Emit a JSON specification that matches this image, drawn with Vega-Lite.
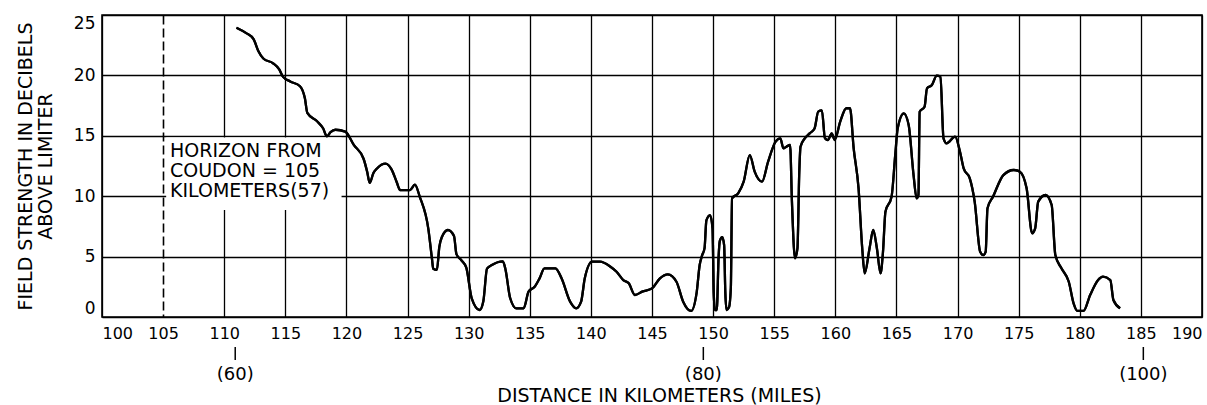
{
  "$schema": "https://vega.github.io/schema/vega-lite/v6.json",
  "autosize": {"type": "none"},
  "padding": {"left": 102, "top": 15, "right": 5, "bottom": 88},
  "width": 1100,
  "height": 302,
  "background": "white",
  "config": {
    "view": {"stroke": "black", "strokeWidth": 1.6},
    "font": "DejaVu Sans",
    "text": {"color": "black"}
  },
  "datasets": {
    "curve": [
      {"km": 111.0, "db": 23.95}, {"km": 111.8, "db": 23.5}, {"km": 112.4, "db": 23.0}, {"km": 112.8, "db": 22.0},
      {"km": 113.2, "db": 21.4}, {"km": 114.0, "db": 21.0}, {"km": 114.5, "db": 20.5}, {"km": 114.8, "db": 19.9},
      {"km": 115.4, "db": 19.5}, {"km": 116.2, "db": 19.1}, {"km": 116.6, "db": 18.1}, {"km": 116.8, "db": 16.9},
      {"km": 117.6, "db": 16.2}, {"km": 118.1, "db": 15.6}, {"km": 118.4, "db": 14.95}, {"km": 118.7, "db": 15.3},
      {"km": 119.1, "db": 15.5}, {"km": 119.9, "db": 15.35}, {"km": 120.6, "db": 14.25}, {"km": 121.4, "db": 13.1},
      {"km": 121.7, "db": 12.0}, {"km": 121.9, "db": 11.1}, {"km": 122.2, "db": 11.9}, {"km": 122.5, "db": 12.3},
      {"km": 123.2, "db": 12.7}, {"km": 123.7, "db": 12.2}, {"km": 124.1, "db": 11.2}, {"km": 124.4, "db": 10.5},
      {"km": 125.2, "db": 10.5}, {"km": 125.6, "db": 10.95}, {"km": 126.0, "db": 9.95}, {"km": 126.7, "db": 7.3},
      {"km": 127.0, "db": 4.8}, {"km": 127.1, "db": 4.0}, {"km": 127.4, "db": 3.9}, {"km": 127.6, "db": 5.8},
      {"km": 127.8, "db": 6.6}, {"km": 128.3, "db": 7.2}, {"km": 128.8, "db": 6.7}, {"km": 129.0, "db": 5.2},
      {"km": 129.4, "db": 4.7}, {"km": 129.8, "db": 4.1}, {"km": 130.25, "db": 1.55}, {"km": 130.9, "db": 0.58},
      {"km": 131.2, "db": 1.3}, {"km": 131.5, "db": 4.0}, {"km": 131.9, "db": 4.3}, {"km": 132.8, "db": 4.6},
      {"km": 133.0, "db": 4.0}, {"km": 133.4, "db": 1.55}, {"km": 133.9, "db": 0.72}, {"km": 134.5, "db": 0.72},
      {"km": 134.9, "db": 2.1}, {"km": 135.4, "db": 2.5}, {"km": 135.8, "db": 3.2}, {"km": 136.2, "db": 4.03},
      {"km": 137.1, "db": 4.03}, {"km": 137.6, "db": 3.2}, {"km": 138.3, "db": 1.27}, {"km": 138.8, "db": 0.72},
      {"km": 139.2, "db": 1.27}, {"km": 139.5, "db": 3.2}, {"km": 140.1, "db": 4.58}, {"km": 140.75, "db": 4.58},
      {"km": 141.6, "db": 4.16}, {"km": 142.1, "db": 3.75}, {"km": 142.65, "db": 3.06}, {"km": 143.1, "db": 2.79},
      {"km": 143.6, "db": 1.82}, {"km": 144.2, "db": 2.1}, {"km": 145.0, "db": 2.37}, {"km": 145.65, "db": 3.2},
      {"km": 146.3, "db": 3.53}, {"km": 147.0, "db": 2.92}, {"km": 147.55, "db": 1.27}, {"km": 148.2, "db": 0.5},
      {"km": 148.65, "db": 2.0}, {"km": 148.9, "db": 4.3}, {"km": 149.1, "db": 5.1}, {"km": 149.3, "db": 5.7},
      {"km": 149.45, "db": 8.0}, {"km": 149.75, "db": 8.44}, {"km": 149.95, "db": 7.34}, {"km": 150.05, "db": 2.0},
      {"km": 150.15, "db": 0.58}, {"km": 150.3, "db": 0.58}, {"km": 150.45, "db": 5.0}, {"km": 150.55, "db": 6.3},
      {"km": 150.75, "db": 6.6}, {"km": 150.9, "db": 5.96}, {"km": 151.0, "db": 2.0}, {"km": 151.1, "db": 0.58},
      {"km": 151.3, "db": 0.8}, {"km": 151.45, "db": 2.4}, {"km": 151.55, "db": 9.82}, {"km": 152.05, "db": 10.24},
      {"km": 152.5, "db": 11.2}, {"km": 153.0, "db": 13.4}, {"km": 153.4, "db": 12.03}, {"km": 154.0, "db": 11.2},
      {"km": 154.5, "db": 12.86}, {"km": 155.1, "db": 14.5}, {"km": 155.5, "db": 14.79}, {"km": 155.75, "db": 13.96},
      {"km": 156.0, "db": 14.1}, {"km": 156.3, "db": 14.24}, {"km": 156.45, "db": 9.55}, {"km": 156.7, "db": 4.86},
      {"km": 156.9, "db": 5.69}, {"km": 157.05, "db": 12.0}, {"km": 157.15, "db": 14.1}, {"km": 157.5, "db": 14.79},
      {"km": 157.9, "db": 15.2}, {"km": 158.3, "db": 15.6}, {"km": 158.6, "db": 17.0}, {"km": 158.9, "db": 17.1},
      {"km": 159.15, "db": 14.8}, {"km": 159.4, "db": 14.65}, {"km": 159.7, "db": 15.2}, {"km": 159.95, "db": 14.65},
      {"km": 160.4, "db": 16.17}, {"km": 160.9, "db": 17.28}, {"km": 161.2, "db": 17.28}, {"km": 161.5, "db": 13.96},
      {"km": 161.9, "db": 10.65}, {"km": 162.2, "db": 5.69}, {"km": 162.4, "db": 3.62}, {"km": 162.8, "db": 5.69},
      {"km": 163.1, "db": 7.2}, {"km": 163.4, "db": 5.69}, {"km": 163.7, "db": 3.62}, {"km": 163.9, "db": 5.4},
      {"km": 164.1, "db": 8.72}, {"km": 164.6, "db": 9.96}, {"km": 164.9, "db": 13.4}, {"km": 165.1, "db": 15.6},
      {"km": 165.6, "db": 16.86}, {"km": 166.0, "db": 15.9}, {"km": 166.4, "db": 11.75}, {"km": 166.65, "db": 9.82},
      {"km": 166.8, "db": 10.1}, {"km": 166.9, "db": 17.0}, {"km": 167.3, "db": 17.41}, {"km": 167.5, "db": 18.93},
      {"km": 167.9, "db": 19.2}, {"km": 168.3, "db": 19.98}, {"km": 168.6, "db": 19.9}, {"km": 168.85, "db": 14.79},
      {"km": 169.1, "db": 14.38}, {"km": 169.8, "db": 14.93}, {"km": 170.2, "db": 13.68}, {"km": 170.5, "db": 12.3},
      {"km": 171.0, "db": 11.48}, {"km": 171.4, "db": 9.55}, {"km": 171.85, "db": 5.4}, {"km": 172.1, "db": 5.13},
      {"km": 172.3, "db": 5.4}, {"km": 172.45, "db": 9.0}, {"km": 172.9, "db": 9.96}, {"km": 173.75, "db": 11.75},
      {"km": 174.6, "db": 12.17}, {"km": 175.1, "db": 12.03}, {"km": 175.65, "db": 10.65}, {"km": 176.1, "db": 6.93},
      {"km": 176.35, "db": 7.34}, {"km": 176.6, "db": 9.55}, {"km": 177.2, "db": 10.1}, {"km": 177.7, "db": 9.27},
      {"km": 178.0, "db": 5.13}, {"km": 178.5, "db": 4.03}, {"km": 179.1, "db": 2.92}, {"km": 179.5, "db": 1.1},
      {"km": 179.8, "db": 0.5}, {"km": 180.3, "db": 0.5}, {"km": 180.85, "db": 1.82}, {"km": 181.5, "db": 3.06},
      {"km": 181.9, "db": 3.34}, {"km": 182.5, "db": 3.06}, {"km": 182.75, "db": 1.41}, {"km": 183.3, "db": 0.72}
    ],
    "miles": [
      {"km": 110.9, "label": "(60)"},
      {"km": 149.2, "label": "(80)"},
      {"km": 185.2, "label": "(100)"}
    ]
  },
  "layer": [
    {
      "data": {"name": "curve"},
      "mark": {"type": "line", "color": "black", "strokeWidth": 2.3, "interpolate": "monotone"},
      "encoding": {
        "x": {
          "field": "km", "type": "quantitative",
          "scale": {"domain": [100, 190], "nice": false, "zero": false},
          "axis": {
            "title": "DISTANCE IN KILOMETERS (MILES)",
            "values": [100, 105, 110, 115, 120, 125, 130, 135, 140, 145, 150, 155, 160, 165, 170, 175, 180, 185, 190],
            "grid": true, "gridColor": "black", "gridOpacity": 1,
            "gridWidth": {"condition": {"test": "datum.value === 105", "value": 1.6}, "value": 1.3},
            "gridDash": {"condition": {"test": "datum.value === 105", "value": [9, 4]}, "value": []},
            "domain": false, "ticks": false, "tickSize": 0,
            "labelPadding": 8, "labelFontSize": 16, "labelColor": "black", "labelFlush": true,
            "titleFontSize": 19, "titleFontWeight": "normal", "titleColor": "black",
            "titleBaseline": "middle", "titleX": 557, "titleY": 78
          }
        },
        "y": {
          "field": "db", "type": "quantitative",
          "scale": {"domain": [0, 25], "nice": false},
          "axis": {
            "title": ["FIELD STRENGTH IN DECIBELS", "ABOVE LIMITER"],
            "values": [0, 5, 10, 15, 20, 25],
            "grid": true, "gridColor": "black", "gridOpacity": 1, "gridWidth": 1.3,
            "domain": false, "ticks": false, "tickSize": 0,
            "labelPadding": 7, "labelFontSize": 17, "labelColor": "black", "labelFlush": true,
            "titleFontSize": 19, "titleFontWeight": "normal", "titleColor": "black",
            "titleLineHeight": 20, "titleBaseline": "middle", "titleAngle": 270,
            "titleX": -77, "titleY": 151
          }
        }
      }
    },
    {
      "data": {"values": [{}]},
      "mark": {"type": "rect", "fill": "white"},
      "encoding": {
        "x": {"datum": 105.25, "type": "quantitative"},
        "x2": {"datum": 119.6},
        "y": {"datum": 8.85, "type": "quantitative"},
        "y2": {"datum": 14.85}
      }
    },
    {
      "data": {"values": [{}]},
      "mark": {
        "type": "text", "text": ["HORIZON FROM", "COUDON = 105", "KILOMETERS(57)"],
        "align": "left", "baseline": "top", "fontSize": 19, "lineHeight": 20, "color": "black"
      },
      "encoding": {
        "x": {"datum": 105.56, "type": "quantitative"},
        "y": {"datum": 14.45, "type": "quantitative"}
      }
    },
    {
      "data": {"name": "curve"},
      "mark": {"type": "line", "color": "black", "strokeWidth": 2.3, "interpolate": "monotone"},
      "encoding": {
        "x": {"field": "km", "type": "quantitative"},
        "y": {"field": "db", "type": "quantitative"}
      }
    },
    {
      "data": {"name": "miles"},
      "mark": {"type": "rule", "color": "black", "strokeWidth": 1.5, "yOffset": 30, "y2Offset": 43},
      "encoding": {
        "x": {"field": "km", "type": "quantitative"},
        "y": {"datum": 0, "type": "quantitative"},
        "y2": {"datum": 0}
      }
    },
    {
      "data": {"name": "miles"},
      "mark": {"type": "text", "fontSize": 18, "baseline": "middle", "dy": 58, "color": "black"},
      "encoding": {
        "x": {"field": "km", "type": "quantitative"},
        "y": {"datum": 0, "type": "quantitative"},
        "text": {"field": "label"}
      }
    }
  ]
}
